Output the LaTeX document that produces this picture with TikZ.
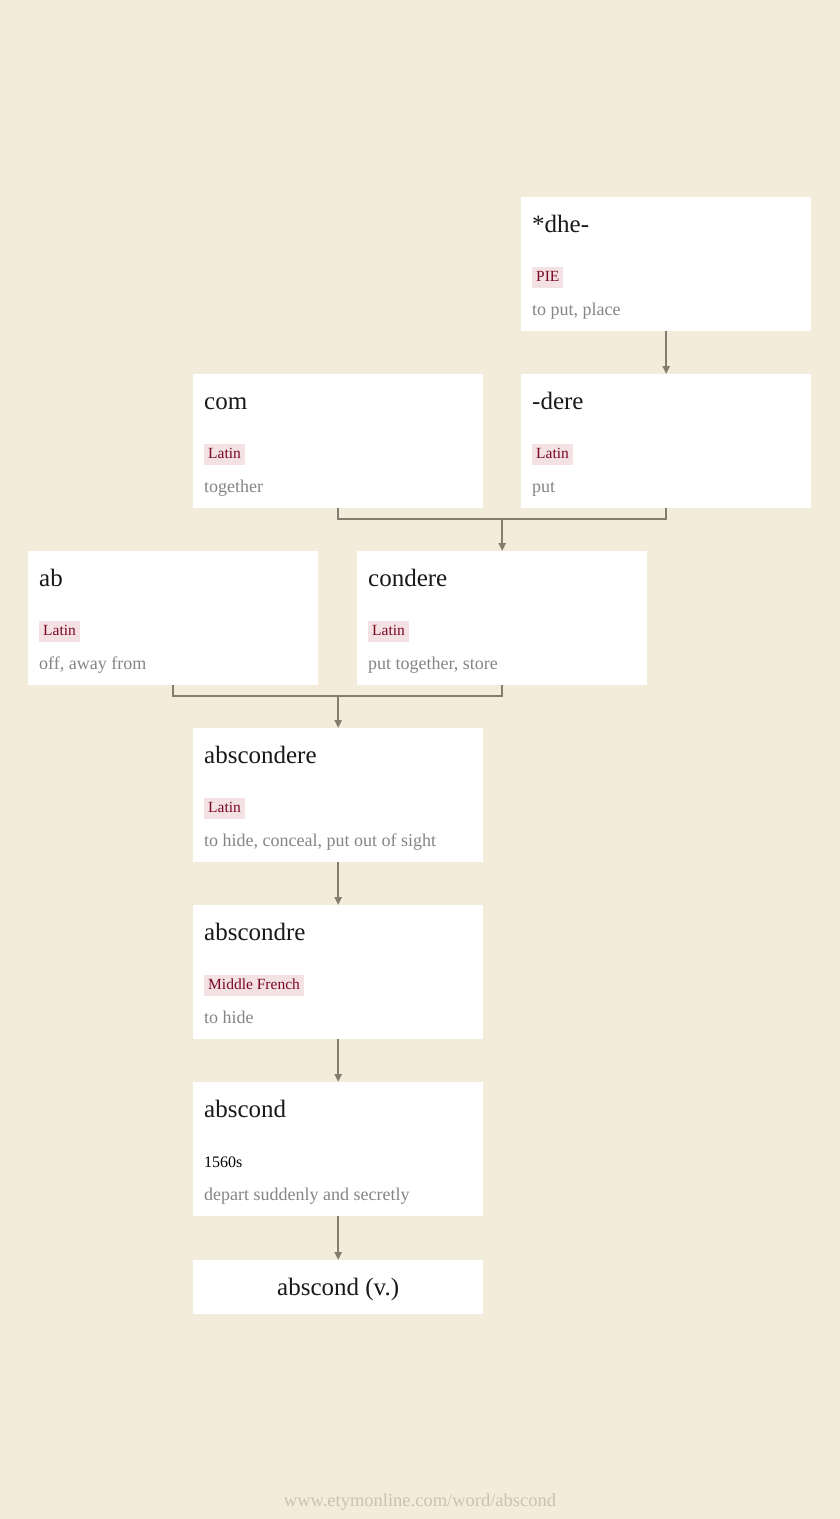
\documentclass[tikz,border=0pt]{standalone}
\usepackage{fontspec}
\setmainfont{Liberation Serif}
\usetikzlibrary{positioning,arrows.meta}

\definecolor{paper}{HTML}{F3ECDB}
\definecolor{tagbg}{HTML}{F3E1E3}
\definecolor{tagfg}{HTML}{7A0A22}
\definecolor{glossfg}{HTML}{858585}
\definecolor{linefg}{HTML}{847C6C}
\definecolor{footfg}{HTML}{CBC3B1}

% box: name, x, y, word, language, meaning
\newcommand{\wordbox}[6]{%
  \node[wbox] (#1) at (#2,#3) {};
  \node[wtitle] (#1-word) at ([xshift=11pt,yshift=-35pt]#1.north west) {#4};
  \node[wlang] (#1-lang) at ([xshift=11pt,yshift=-84pt]#1.north west) {#5};
  \node[wgloss] (#1-gloss) at ([xshift=11pt,yshift=-118pt]#1.north west) {#6};
}

\begin{document}
\begin{tikzpicture}[x=1pt, y=-1pt,
  wbox/.style={fill=white, anchor=north west, minimum width=290pt, minimum height=134pt, inner sep=0pt},
  wtitle/.style={anchor=base west, inner sep=0pt, text=black!90, font=\fontsize{25}{29}\selectfont},
  wlang/.style={anchor=base west, fill=tagbg, text=tagfg, inner xsep=4pt, inner ysep=3.5pt,
    text height=10.5pt, text depth=3pt, font=\fontsize{15.5}{18}\selectfont},
  wgloss/.style={anchor=base west, inner sep=0pt, text=glossfg, font=\fontsize{18}{21}\selectfont},
  conn/.style={draw=linefg, line width=2pt},
  tip/.style={-{Triangle[width=7pt,length=8pt]}}]

  \useasboundingbox[fill=paper] (0,0) rectangle (840,1519);

  %rotas de cima
  \wordbox{dhe}{521}{197}{*dhe-}{PIE}{to put, place}
  \wordbox{dere}{521}{374}{-dere}{Latin}{put}
  \wordbox{com}{193}{374}{com}{Latin}{together}

  %meio
  \wordbox{ab}{28}{551}{ab}{Latin}{off, away from}
  \wordbox{condere}{357}{551}{condere}{Latin}{put together, store}
  \wordbox{abscondere}{193}{728}{abscondere}{Latin}{to hide, conceal, put out of sight}
  \wordbox{abscondre}{193}{905}{abscondre}{Middle French}{to hide}

  %ingles
  \node[wbox] (abscond) at (193,1082) {};
  \node[wtitle] (abscond-word) at ([xshift=11pt,yshift=-35pt]abscond.north west) {abscond};
  \node[wgloss, text=black, font=\fontsize{16}{19}\selectfont] (abscond-date) at ([xshift=11pt,yshift=-85pt]abscond.north west) {1560s};
  \node[wgloss] (abscond-gloss) at ([xshift=11pt,yshift=-118pt]abscond.north west) {depart suddenly and secretly};

  \node[wbox, minimum height=54pt] (verb) at (193,1260) {};
  \node[wtitle, anchor=base] (verb-word) at ([yshift=-35pt]verb.north) {abscond (v.)};

  %ligacoes
  \draw[conn, tip] (dhe.south) -- (dere.north);

  \coordinate (j1) at ([yshift=-11pt]condere.north |- com.south);
  \draw[conn] (com.south) |- (j1) -| (dere.south);
  \draw[conn, tip] (j1) -- (condere.north);

  \coordinate (j2) at ([yshift=-11pt]abscondere.north |- ab.south);
  \draw[conn] (ab.south) |- (j2) -| (condere.south);
  \draw[conn, tip] (j2) -- (abscondere.north);

  \draw[conn, tip] (abscondere.south) -- (abscondre.north);
  \draw[conn, tip] (abscondre.south) -- (abscond.north);
  \draw[conn, tip] (abscond.south) -- (verb.north);

  \node[text=footfg, font=\fontsize{18.5}{22}\selectfont] (footer) at (420,1502) {www.etymonline.com/word/abscond};
\end{tikzpicture}
\end{document}
